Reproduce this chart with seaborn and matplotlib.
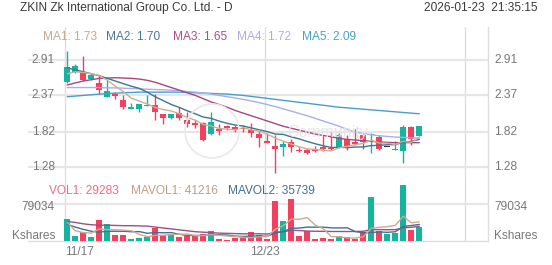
import numpy as np
import pandas as pd
import matplotlib
matplotlib.use("Agg")
import matplotlib.pyplot as plt
import matplotlib.transforms as mtransforms
from matplotlib.patches import Ellipse
import seaborn as sns

sns.set_theme(style="white")
plt.rcParams["font.family"] = ["Liberation Sans", "DejaVu Sans"]

# ---------------- data ----------------
title = "ZKIN Zk International Group Co. Ltd. - D"
timestamp = "2026-01-23  21:35:15"
date_labels = ["11/17", "12/23"]

opens = [2.579, 2.728, 2.708, 2.615, 2.564, 2.346, 2.393, 2.294, 2.170, 2.160,
         2.212, 2.227, 2.082, 2.020, 2.098, 1.994, 1.952, 1.943, 1.787, 1.865,
         1.901, 1.885, 1.874, 1.839, 1.787, 1.663, 1.595, 1.579, 1.657, 1.544,
         1.539, 1.554, 1.579, 1.575, 1.579, 1.710, 1.660, 1.761, 1.761, 1.734,
         1.579, 1.539, 1.528, 1.890, 1.750]
highs = [3.050, 2.848, 2.977, 2.693, 2.682, 2.600, 2.418, 2.371, 2.253, 2.242,
         2.371, 2.393, 2.087, 2.090, 2.200, 2.113, 1.994, 1.967, 2.123, 1.932,
         1.916, 1.916, 1.916, 1.947, 1.823, 1.792, 1.761, 1.668, 1.710, 1.579,
         1.567, 1.606, 1.761, 1.812, 1.803, 1.761, 1.865, 1.803, 1.803, 1.761,
         1.579, 1.668, 1.916, 1.900, 1.908]
lows = [2.553, 2.716, 2.584, 2.607, 2.393, 2.343, 2.320, 2.165, 2.170, 2.113,
        2.212, 1.994, 1.927, 2.015, 1.994, 1.890, 1.877, 1.668, 1.761, 1.761,
        1.839, 1.812, 1.812, 1.734, 1.579, 1.649, 1.182, 1.450, 1.502, 1.502,
        1.481, 1.502, 1.528, 1.544, 1.564, 1.544, 1.617, 1.554, 1.492, 1.544,
        1.579, 1.539, 1.337, 1.617, 1.750]
closes = [2.806, 2.821, 2.604, 2.677, 2.460, 2.444, 2.367, 2.191, 2.176, 2.238,
          2.216, 2.113, 2.020, 2.082, 2.020, 1.927, 1.921, 1.683, 1.967, 1.828,
          1.877, 1.865, 1.859, 1.803, 1.725, 1.652, 1.554, 1.632, 1.579, 1.520,
          1.489, 1.517, 1.548, 1.548, 1.761, 1.595, 1.637, 1.657, 1.781, 1.554,
          1.579, 1.544, 1.890, 1.710, 1.901]
# volume in thousand shares
volumes = [46.35, 11.32, 18.58, 9.19, 44.86, 36.31, 12.82, 12.82, 3.63, 7.05,
           9.19, 28.41, 12.82, 12.82, 9.19, 11.32, 11.32, 14.31, 21.36, 4.27,
           2.14, 5.77, 5.77, 18.58, 12.82, 4.27, 86.08, 42.72, 89.71, 11.32,
           22.00, 4.27, 5.77, 3.63, 10.68, 7.90, 3.63, 19.86, 94.62, 21.36,
           14.95, 16.45, 119.60, 23.50, 29.283]

ma1 = [2.70, 2.73, 2.72, 2.70, 2.674, 2.601, 2.510, 2.428, 2.328, 2.283,
       2.238, 2.187, 2.153, 2.134, 2.090, 2.032, 1.994, 1.927, 1.904, 1.865,
       1.855, 1.844, 1.879, 1.846, 1.826, 1.781, 1.719, 1.673, 1.628, 1.587,
       1.555, 1.547, 1.531, 1.524, 1.573, 1.594, 1.618, 1.640, 1.686, 1.645,
       1.642, 1.623, 1.670, 1.655, 1.730]
ma2 = [2.79, 2.76, 2.73, 2.70, 2.67, 2.63, 2.59, 2.55, 2.51, 2.478,
       2.419, 2.349, 2.290, 2.231, 2.187, 2.135, 2.090, 2.040, 2.019, 1.978,
       1.944, 1.919, 1.903, 1.875, 1.846, 1.818, 1.781, 1.776, 1.737, 1.707,
       1.668, 1.633, 1.602, 1.576, 1.580, 1.574, 1.583, 1.585, 1.605, 1.609,
       1.618, 1.620, 1.655, 1.671, 1.700]
ma3 = [2.53, 2.56, 2.59, 2.61, 2.63, 2.635, 2.64, 2.635, 2.63, 2.62,
       2.60, 2.57, 2.53, 2.49, 2.45, 2.41, 2.37, 2.32, 2.27, 2.23,
       2.19, 2.14, 2.10, 2.06, 2.02, 1.98, 1.94, 1.90, 1.87, 1.84,
       1.81, 1.78, 1.76, 1.74, 1.715, 1.70, 1.69, 1.68, 1.67, 1.66,
       1.655, 1.65, 1.65, 1.65, 1.65]
ma4 = [2.49, 2.49, 2.49, 2.49, 2.49, 2.485, 2.485, 2.48, 2.475, 2.47,
       2.465, 2.46, 2.455, 2.45, 2.44, 2.43, 2.42, 2.405, 2.39, 2.37,
       2.35, 2.33, 2.31, 2.285, 2.26, 2.23, 2.20, 2.165, 2.13, 2.095,
       2.06, 2.02, 1.98, 1.94, 1.90, 1.85, 1.81, 1.79, 1.77, 1.755,
       1.745, 1.735, 1.73, 1.725, 1.72]
ma5 = [2.35, 2.36, 2.37, 2.38, 2.39, 2.40, 2.405, 2.41, 2.415, 2.42,
       2.42, 2.42, 2.42, 2.42, 2.42, 2.415, 2.41, 2.405, 2.40, 2.395,
       2.39, 2.38, 2.37, 2.355, 2.34, 2.325, 2.31, 2.295, 2.28, 2.265,
       2.25, 2.235, 2.22, 2.205, 2.19, 2.18, 2.17, 2.16, 2.15, 2.14,
       2.13, 2.12, 2.11, 2.10, 2.09]

mavol1 = [40, 22, 18, 17, 26.1, 24.1, 24.4, 23.2, 22.1, 14.5,
          9.1, 12.2, 12.2, 14.1, 14.5, 14.9, 11.5, 11.8, 13.5, 12.5,
          10.7, 9.6, 7.9, 7.3, 9.0, 9.5, 25.5, 32.9, 47.1, 46.8,
          50.4, 34.0, 26.6, 9.4, 9.3, 6.5, 6.3, 9.1, 27.3, 29.5,
          30.9, 33.5, 53.4, 39.2, 41.2]
mavol2 = [36, 30, 25, 21, 19, 21, 21, 21, 20, 20.3,
          16.6, 18.3, 17.7, 18.1, 14.5, 12.0, 11.9, 12.0, 13.8, 13.5,
          12.8, 10.5, 9.8, 10.4, 10.8, 10.1, 17.6, 20.4, 27.2, 27.9,
          29.9, 29.8, 29.8, 28.3, 28.1, 28.4, 20.2, 17.9, 18.4, 19.4,
          18.7, 19.9, 31.3, 33.3, 35.7]
mavol3 = [42, 40, 37, 35, 34, 34, 33.5, 33, 33, 32.5,
          32, 30, 28, 26, 24, 22, 20, 19, 18, 16.9,
          16.5, 16, 15.5, 15.5, 15.5, 15, 18.5, 20, 23, 22.5,
          21.4, 21, 20.8, 20.5, 20.5, 20.4, 20.5, 21, 24.5, 24.5,
          24.3, 24.5, 28.5, 29.5, 31.6]

price_ticks = [2.91, 2.37, 1.82, 1.28]
vol_tick = 79034
ma_labels = ["MA1: 1.73", "MA2: 1.70", "MA3: 1.65", "MA4: 1.72", "MA5: 2.09"]
vol_labels = ["VOL1: 29283", "MAVOL1: 41216", "MAVOL2: 35739"]

# ---------------- style ----------------
TEAL = "#16b3a1"
RED = "#f2405e"
FLAT = "#333333"
MA_COLORS = ["#cfae94", "#3f7592", "#a9467e", "#abaee6", "#4a9ec6"]
MA_TEXT = ["#c9a68c", "#4a7795", "#b04c86", "#abaee6", "#4aa0c8"]
VOL_TEXT = ["#ef6b7f", "#b9a08a", "#43708e"]
VOL_LINES = ["#c9ab92", "#43708e", "#9c4f8a"]
GRID = "#e6e6e6"
VGRID = "#dedede"
LABEL = "#777777"
FS = 8.6

W, H = 552, 265
fig = plt.figure(figsize=(W / 100, H / 100), dpi=100)
fig.patch.set_facecolor("white")


def fbox(x0, y0, x1, y1):
    return [x0 / W, 1 - y1 / H, (x1 - x0) / W, (y1 - y0) / H]


def px2fx(px):
    return px / W


def py2fy(py):
    return 1 - py / H


ax_p = fig.add_axes(fbox(28, 27, 488, 183))
ax_v = fig.add_axes(fbox(28, 183, 488, 241), sharex=ax_p)

n = len(closes)
idx = np.arange(n)
df = pd.DataFrame(dict(i=idx, open=opens, high=highs, low=lows,
                       close=closes, vol=volumes))
o = df["open"].to_numpy()
c = df["close"].to_numpy()
cdir = np.where(c > o, TEAL, np.where(c < o, RED, FLAT))
df["vdir"] = np.where(c >= o, "up", "down")

# x mapping: candle i centred at 67.3 + 8 i px, axes spans px 28..488
x_left = (28 - 67.3) / 8
x_right = (488 - 67.3) / 8
vgrid_x = [(65 - 67.3) / 8, (265 - 67.3) / 8, (465 - 67.3) / 8]

# ---------------- price panel ----------------
ax_p.vlines(idx, df["low"], df["high"], colors=cdir, lw=1.0, zorder=3)
body_bottom = np.minimum(o, c)
body_h = np.maximum(np.abs(c - o), 0.016)
ax_p.bar(idx, body_h, bottom=body_bottom, width=0.72, color=cdir,
         linewidth=0, zorder=3)

for ma, col in zip([ma5, ma4, ma3, ma2, ma1], MA_COLORS[::-1]):
    sns.lineplot(x=idx, y=ma, color=col, lw=1.0, ax=ax_p, zorder=4)

ylo = 2.91 - (183 - 60) / 65.6
yhi = 2.91 + (60 - 27) / 65.6
ax_p.set_ylim(ylo, yhi)
ax_p.set_xlim(x_left, x_right)

# ---------------- volume panel ----------------
sns.barplot(data=df, x="i", y="vol", hue="vdir",
            palette={"up": TEAL, "down": RED}, native_scale=True,
            dodge=False, width=0.72, legend=False, errorbar=None,
            saturation=1, linewidth=0, ax=ax_v, zorder=3)
for mv, col in zip([mavol3, mavol2, mavol1], [VOL_LINES[2], VOL_LINES[1], VOL_LINES[0]]):
    sns.lineplot(x=idx, y=mv, color=col, lw=1.0, ax=ax_v, zorder=4)

vtop = 79.034 * (241 - 183) / (241 - 204.3)
ax_v.set_ylim(0, vtop)
ax_v.set_xlim(x_left, x_right)

# ---------------- grids and spines ----------------
for ax in (ax_p, ax_v):
    ax.set_facecolor("none")
    ax.set_xticks(vgrid_x)
    ax.xaxis.grid(True, color=VGRID, lw=1.0, zorder=0)
    ax.tick_params(length=0, labelleft=False, labelbottom=False,
                   labelright=False, labeltop=False)
    ax.set_xlabel("")
    ax.set_ylabel("")
    for s in ax.spines.values():
        s.set_visible(False)
    ax.spines["right"].set_visible(True)
    ax.spines["right"].set_color(VGRID)
    ax.spines["right"].set_linewidth(1.0)
    ax.set_axisbelow(True)

ax_p.set_yticks(price_ticks)
ax_p.yaxis.grid(True, color=GRID, lw=1.6)
ax_v.set_yticks([vol_tick / 1000])
ax_v.yaxis.grid(True, color=GRID, lw=1.6)
ax_v.spines["bottom"].set_visible(True)
ax_v.spines["bottom"].set_color(VGRID)
ax_v.spines["bottom"].set_linewidth(1.0)

# ---------------- axis labels ----------------
tp = mtransforms.blended_transform_factory(fig.transFigure, ax_p.transData)
for t in price_ticks:
    fig.text(px2fx(55), t, f"{t:.2f}", transform=tp,
             ha="right", va="center", fontsize=FS, color=LABEL)
    fig.text(px2fx(494), t, f"{t:.2f}", transform=tp,
             ha="left", va="center", fontsize=FS, color=LABEL)

for xx, ha in [(55, "right"), (494, "left")]:
    fig.text(px2fx(xx), py2fy(207.5), f"{vol_tick}", ha=ha, va="center",
             fontsize=FS, color=LABEL)
    fig.text(px2fx(xx), py2fy(236), "Kshares", ha=ha, va="center",
             fontsize=FS, color=LABEL)

fig.text(px2fx(65), py2fy(252), date_labels[0], ha="left", va="center",
         fontsize=FS, color=LABEL)
fig.text(px2fx(265), py2fy(252), date_labels[1], ha="center", va="center",
         fontsize=FS, color=LABEL)

# ---------------- header and legends ----------------
fig.text(px2fx(20), py2fy(8), title, ha="left", va="center",
         fontsize=FS, color="#3a3a3a")
fig.text(px2fx(537), py2fy(8), timestamp, ha="right", va="center",
         fontsize=FS, color="#3a3a3a")

for lab, col, xx in zip(ma_labels, MA_TEXT, [43, 106, 173, 237, 302]):
    fig.text(px2fx(xx), py2fy(36.5), lab, ha="left", va="center",
             fontsize=FS, color=col)
for lab, col, xx in zip(vol_labels, VOL_TEXT, [49, 131, 228]):
    fig.text(px2fx(xx), py2fy(191.5), lab, ha="left", va="center",
             fontsize=FS, color=col)

# faint watermark
fig.add_artist(Ellipse((px2fx(212), py2fy(131)), 54 / W, 54 / H,
                       fill=False, ec="#e9e9e9", lw=1.2, zorder=1))
fig.text(px2fx(287), py2fy(132), "Community", ha="left", va="center",
         fontsize=11.5, color="#e6e6e6", zorder=1)

fig.savefig("out.png", dpi=100, facecolor="white")
